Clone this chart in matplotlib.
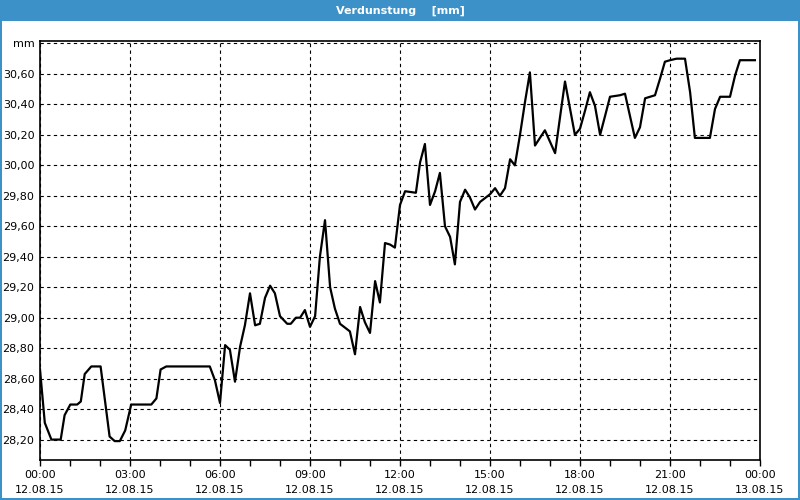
import numpy as np
import matplotlib.pyplot as plt
from matplotlib.patches import Rectangle
from matplotlib.ticker import FixedLocator

# time in hours since 12.08.15 00:00, evaporation in mm
stunden = [0.0, 0.16, 0.38, 0.69, 0.82, 1.01, 1.24, 1.36, 1.49, 1.71, 2.02, 2.32,
           2.49, 2.66, 2.84, 3.04, 3.71, 3.88, 4.02, 4.21, 5.66, 5.83, 6.0, 6.17,
           6.33, 6.5, 6.67, 6.83, 7.0, 7.17, 7.33, 7.5, 7.67, 7.83, 8.0, 8.24,
           8.36, 8.53, 8.67, 8.83, 9.0, 9.17, 9.33, 9.5, 9.67, 9.83, 10.0, 10.33,
           10.5, 10.67, 10.83, 11.0, 11.17, 11.33, 11.5, 11.67, 11.83, 12.0, 12.17,
           12.53, 12.67, 12.83, 13.0, 13.17, 13.33, 13.5, 13.67, 13.83, 14.0, 14.17,
           14.33, 14.5, 14.67, 15.0, 15.17, 15.33, 15.5, 15.67, 15.83, 16.0, 16.17,
           16.33, 16.5, 16.83, 17.17, 17.33, 17.5, 17.83, 18.0, 18.17, 18.33, 18.5,
           18.67, 18.83, 19.0, 19.33, 19.5, 19.67, 19.83, 20.0, 20.17, 20.5, 20.67,
           20.83, 21.0, 21.22, 21.5, 21.67, 21.83, 22.33, 22.5, 22.67, 23.0, 23.17,
           23.33, 23.83]
verdunstung = [28.66, 28.31, 28.20, 28.20, 28.36, 28.43, 28.43, 28.45, 28.63, 28.68,
               28.68, 28.22, 28.19, 28.19, 28.26, 28.43, 28.43, 28.47, 28.66, 28.68,
               28.68, 28.59, 28.44, 28.82, 28.79, 28.58, 28.81, 28.95, 29.16, 28.95,
               28.96, 29.13, 29.21, 29.16, 29.01, 28.96, 28.96, 29.00, 29.00, 29.05,
               28.94, 29.01, 29.40, 29.64, 29.20, 29.06, 28.96, 28.91, 28.76, 29.07,
               28.97, 28.90, 29.24, 29.10, 29.49, 29.48, 29.46, 29.74, 29.83, 29.82,
               30.02, 30.14, 29.74, 29.83, 29.95, 29.60, 29.53, 29.35, 29.76, 29.84,
               29.79, 29.71, 29.76, 29.81, 29.85, 29.80, 29.85, 30.04, 30.00, 30.20,
               30.42, 30.61, 30.13, 30.23, 30.08, 30.31, 30.55, 30.20, 30.24, 30.36,
               30.48, 30.39, 30.20, 30.32, 30.45, 30.46, 30.47, 30.32, 30.18, 30.25,
               30.44, 30.46, 30.57, 30.68, 30.69, 30.70, 30.70, 30.48, 30.18, 30.18,
               30.37, 30.45, 30.45, 30.59, 30.69, 30.69]

y_ticks = [28.2, 28.4, 28.6, 28.8, 29.0, 29.2, 29.4, 29.6, 29.8, 30.0, 30.2, 30.4, 30.6, 30.8]
y_labels = ['28,20', '28,40', '28,60', '28,80', '29,00', '29,20', '29,40', '29,60',
            '29,80', '30,00', '30,20', '30,40', '30,60', 'mm']
x_ticks = [0, 3, 6, 9, 12, 15, 18, 21, 24]
x_labels = ['00:00\n12.08.15', '03:00\n12.08.15', '06:00\n12.08.15', '09:00\n12.08.15',
            '12:00\n12.08.15', '15:00\n12.08.15', '18:00\n12.08.15', '21:00\n12.08.15',
            '00:00\n13.08.15']
titel = 'Verdunstung    [mm]'

blau = '#3c92c8'

fig = plt.figure(figsize=(8, 5), dpi=100)
fig.patch.set_facecolor('white')

# title bar and window frame
fig.patches.append(Rectangle((0, 0.958), 1, 0.042, transform=fig.transFigure,
                             facecolor=blau, edgecolor='none', zorder=0))
fig.patches.append(Rectangle((0, 0), 0.0025, 1, transform=fig.transFigure,
                             facecolor=blau, edgecolor='none', zorder=0))
fig.patches.append(Rectangle((0.9975, 0), 0.0025, 1, transform=fig.transFigure,
                             facecolor=blau, edgecolor='none', zorder=0))
fig.patches.append(Rectangle((0, 0), 1, 0.004, transform=fig.transFigure,
                             facecolor=blau, edgecolor='none', zorder=0))
fig.text(0.5, 0.979, titel, color='white', fontsize=8, fontweight='bold',
         ha='center', va='center')

ax = fig.add_axes([0.05, 0.08, 0.90, 0.8386])
ax.plot(stunden, verdunstung, color='black', linewidth=1.6, zorder=3)

ax.set_xlim(0, 24)
ax.set_ylim(28.066, 30.818)

ax.set_xticks(x_ticks)
ax.set_xticklabels(x_labels, fontsize=8, linespacing=1.6)
ax.xaxis.set_minor_locator(FixedLocator(np.arange(0, 25, 1)))
ax.set_yticks(y_ticks)
ax.set_yticklabels(y_labels, fontsize=8)

ax.tick_params(axis='x', which='both', direction='out', length=4, width=1, pad=3)
ax.tick_params(axis='y', which='both', length=0, pad=4)

ax.grid(True, which='major', color='black', linestyle=(0, (3, 3)), linewidth=0.8)
for s in ax.spines.values():
    s.set_linewidth(1.2)

fig.savefig('out.png', dpi=100)
